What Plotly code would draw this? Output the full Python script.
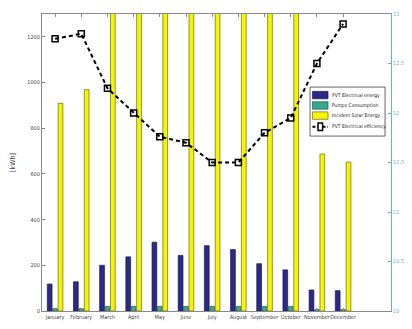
import plotly.graph_objects as go

months = ["January", "February", "March", "April", "May", "June", "July",
          "August", "September", "October", "November", "December"]
pvt_energy = [118, 128, 200, 237, 301, 243, 286, 269, 207, 180, 92, 89]
pumps = [10, 10, 20, 20, 20, 20, 20, 20, 20, 20, 6, 6]
solar = [909, 969, 1450, 1600, 1750, 1800, 1850, 1750, 1550, 1400, 687, 652]
efficiency = [12.75, 12.8, 12.25, 12.0, 11.76, 11.7, 11.5, 11.5, 11.8, 11.95, 12.5, 12.9]

series_names = ["PVT Electrical energy", "Pumps Consumption", "Incident Solar Energy",
                "PVT Electrical efficiency"]
bar_colors = ["#2b2a85", "#3aa88e", "#f6f500"]
bar_edges = ["#1a1a50", "#1f5f50", "#6a6a20"]

x = list(range(1, 13))
font = "DejaVu Sans Condensed, Liberation Sans Narrow, Arial Narrow, Liberation Sans, Arial"

fig = go.Figure()
for vals, nm, c, e in zip([pvt_energy, pumps, solar], series_names[:3], bar_colors, bar_edges):
    fig.add_trace(go.Bar(x=x, y=vals, name=nm, showlegend=False,
                         marker=dict(color=c, line=dict(color=e, width=0.7))))
fig.add_trace(go.Scatter(x=x, y=efficiency, name=series_names[3], yaxis="y2",
                         mode="lines+markers", showlegend=False,
                         line=dict(color="black", width=2, dash="4px,3px"),
                         marker=dict(symbol="square-open", size=6, color="black",
                                     line=dict(width=1.5, color="black"))))

# manual compact legend (paper coordinates)
shapes = [dict(type="rect", xref="paper", yref="paper", x0=0.768, x1=0.983, y0=0.589, y1=0.754,
               fillcolor="white", line=dict(color="#222", width=0.7), layer="above")]
rows = [0.727, 0.692, 0.658, 0.6205]
annotations = []
for i in range(3):
    shapes.append(dict(type="rect", xref="paper", yref="paper", x0=0.775, x1=0.8195,
                       y0=rows[i] - 0.0125, y1=rows[i] + 0.0125,
                       fillcolor=bar_colors[i], line=dict(color=bar_edges[i], width=0.7),
                       layer="above"))
shapes.append(dict(type="line", xref="paper", yref="paper", x0=0.775, x1=0.8195,
                   y0=rows[3], y1=rows[3], line=dict(color="black", width=2, dash="3px,2px"),
                   layer="above"))
shapes.append(dict(type="rect", xref="paper", yref="paper", x0=0.791, x1=0.804,
                   y0=rows[3] - 0.0125, y1=rows[3] + 0.0125,
                   fillcolor="white", line=dict(color="black", width=1.5), layer="above"))
for i, nm in enumerate(series_names):
    annotations.append(dict(xref="paper", yref="paper", x=0.826, y=rows[i], text=nm,
                            showarrow=False, xanchor="left", yanchor="middle",
                            font=dict(size=5, color="#222", family=font)))
# right axis title
annotations.append(dict(xref="paper", yref="paper", x=1.055, y=0.47, text="Electrical Efficiency",
                        showarrow=False, textangle=-90, xanchor="center", yanchor="middle",
                        font=dict(size=8, color="#4a9ed0", family=font)))

fig.update_layout(
    width=412, height=329,
    margin=dict(l=34, r=29, t=6, b=26, autoexpand=False),
    paper_bgcolor="white", plot_bgcolor="white",
    barmode="group", bargap=0.38, bargroupgap=0.12,
    font=dict(family=font, size=5.5, color="#444"),
    showlegend=False,
    shapes=shapes, annotations=annotations,
    xaxis=dict(range=[0.5, 13.83], tickvals=x, ticktext=months, tickangle=0,
               showline=True, linecolor="#888", linewidth=1, mirror="ticks",
               ticks="inside", ticklen=3, tickcolor="#888",
               showgrid=False, zeroline=False, automargin=False,
               tickfont=dict(size=5.5, color="#444")),
    yaxis=dict(range=[0, 1300], tickvals=[0, 200, 400, 600, 800, 1000, 1200],
               showline=True, linecolor="#888", linewidth=1, mirror=True,
               ticks="inside", ticklen=3, tickcolor="#888",
               showgrid=False, zeroline=False, automargin=False,
               title=dict(text="[kWh]", font=dict(size=7, color="#444"), standoff=10),
               tickfont=dict(size=5.5, color="#444")),
    yaxis2=dict(range=[10, 13], overlaying="y", side="right",
                tickvals=[10, 10.5, 11, 11.5, 12, 12.5, 13],
                ticktext=["10", "10.5", "11", "11.5", "12", "12.5", "13"],
                showline=True, linecolor="#6aaed0", linewidth=1,
                ticks="inside", ticklen=3, tickcolor="#6aaed0",
                showgrid=False, zeroline=False,
                tickfont=dict(size=5.5, color="#6aaed0"), automargin=False),
)

fig.write_html("out.html")
